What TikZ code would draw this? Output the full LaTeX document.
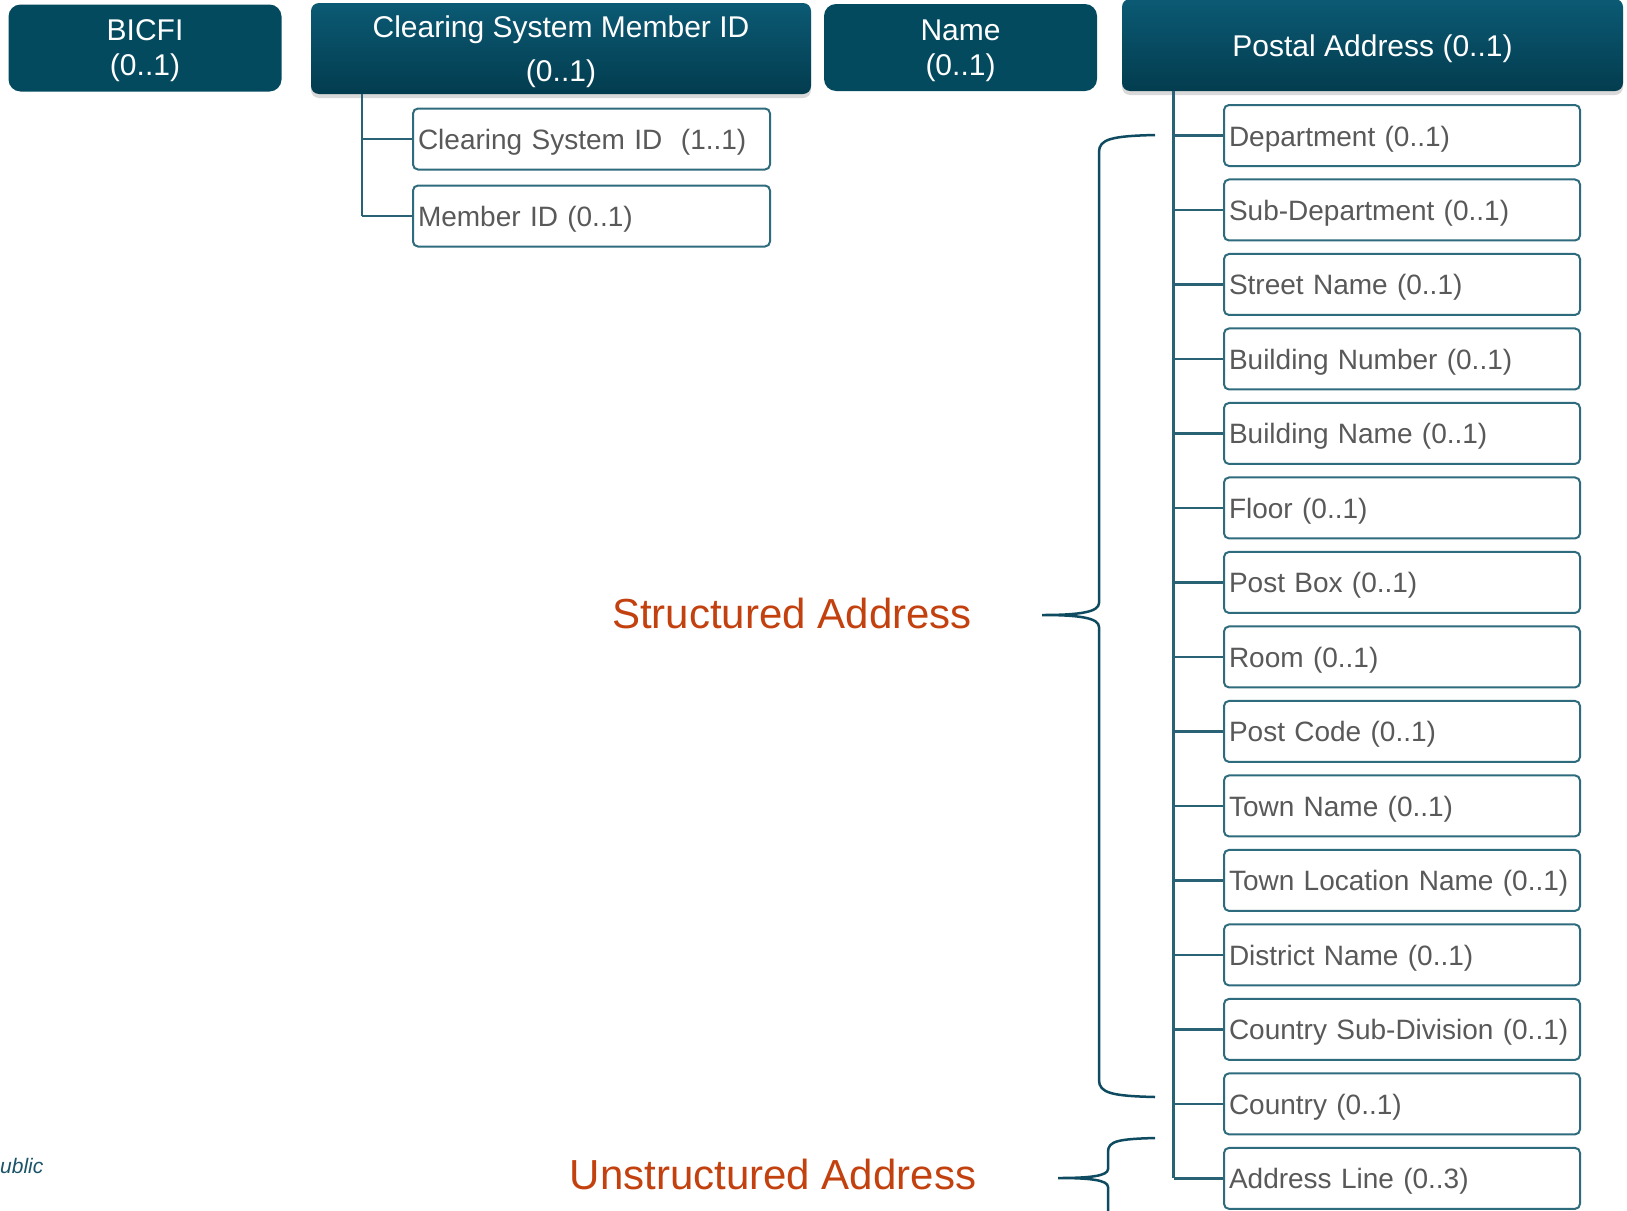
\documentclass[tikz,border=0pt]{standalone}
\usepackage{fontspec}
\setmainfont{Liberation Sans}
\usetikzlibrary{shadows}
\definecolor{hdr}{HTML}{044A5F}
\definecolor{hdrtop}{HTML}{0B5A74}
\definecolor{hdrbot}{HTML}{033C4F}
\definecolor{brd}{HTML}{2E6B7D}
\definecolor{lnk}{HTML}{2A6275}
\definecolor{txt}{HTML}{595959}
\definecolor{lbl}{HTML}{C2410F}
\definecolor{bracec}{HTML}{0E4B60}
\definecolor{pubc}{HTML}{1B5468}
\tikzset{
  hdrbox/.style={fill=hdr, rounded corners=12pt, inner sep=0pt},
  hdrshade/.style={rounded corners=8pt, top color=hdrtop, bottom color=hdrbot,
    inner sep=0pt,
    drop shadow={opacity=0.3, shadow xshift=0pt, shadow yshift=-4pt}},
  hdrtext/.style={text=white, align=center, inner sep=0pt,
    font=\fontsize{30}{35}\selectfont},
  hdrtextwide/.style={hdrtext, font=\fontsize{30}{44}\selectfont},
  childbox/.style={draw=brd, line width=2pt, fill=white, rounded corners=5pt,
    minimum width=356pt, minimum height=61pt, text=txt, anchor=west, align=left,
    text width=346pt, inner xsep=5pt, inner ysep=0pt,
    text height=27pt, text depth=6pt,
    font=\fontsize{28}{32}\selectfont},
  link/.style={draw=lnk, line width=2.5pt},
  bracel/.style={draw=bracec, line width=2.5pt},
  lbltext/.style={text=lbl, font=\fontsize{42}{48}\selectfont, inner sep=0pt},
}
\begin{document}
\begin{tikzpicture}[x=1pt, y=-1pt]
\useasboundingbox (0,0) rectangle (1627,1210);
\clip (0,0) rectangle (1627,1210);

% header boxes
\node[hdrbox, minimum width=273pt, minimum height=87pt] (bic) at (145,48) {};
\node[hdrtext] (bict) at ([yshift=-3pt]bic.center) {BICFI\\(0..1)};
\node[hdrshade, minimum width=500pt, minimum height=91pt] (csm) at (561,48.5) {};
\node[hdrtextwide] (csmt) at ([yshift=-3.5pt]csm.center) {Clearing System Member ID\\(0..1)};
\node[hdrbox, minimum width=273pt, minimum height=87pt] (nam) at (960.5,47.5) {};
\node[hdrtext] (namt) at ([yshift=-3pt]nam.center) {Name\\(0..1)};
\node[hdrshade, minimum width=501pt, minimum height=92pt] (pa) at (1372.5,45) {};
\node[hdrtext] (pat) at ([yshift=-4pt]pa.center) {Postal Address (0..1)};

% Clearing system member children
\node[childbox, minimum width=357pt, text width=347pt] (cs1) at (412,139) {Clearing System ID\ \ (1..1)};
\node[childbox, minimum width=357pt, text width=347pt] (cs2) at (412,216) {Member ID (0..1)};
\coordinate (ct) at (362,94);
\draw[link] (ct) -- (ct |- cs2.west);
\draw[link] (ct |- cs1.west) -- (cs1.west);
\draw[link] (ct |- cs2.west) -- (cs2.west);

% Postal address children
\foreach \t [count=\i from 0] in {Department (0..1), Sub-Department (0..1), Street Name (0..1),
  Building Number (0..1), Building Name (0..1), Floor (0..1), Post Box (0..1), Room (0..1),
  Post Code (0..1), Town Name (0..1), Town Location Name (0..1), District Name (0..1),
  Country Sub-Division (0..1), Country (0..1), Address Line (0..3)}
  { \node[childbox] (p\i) at (1223, {135.5+\i*74.49}) {\t}; }
\coordinate (pt) at (1173.5,91);
\draw[link] (pt) -- (pt |- p14.west);
\foreach \i in {0,...,14} { \draw[link] (pt |- p\i.west) -- (p\i.west); }

% labels
\node[lbltext] (sa) at (792,613) {Structured Address};
\node[lbltext] (ua) at (773,1174) {Unstructured Address};
\node[anchor=west, inner sep=0pt, text=pubc, font=\itshape\fontsize{21}{24}\selectfont] (pub) at (0,1166) {ublic};

% braces
\coordinate (s1) at (1155,135);
\coordinate (st) at (1042,615);
\coordinate (s2) at (1155,1097);
\draw[bracel] (s1) .. controls (1112,136) and (1099,139) .. (1099,152)
  -- (1099,603) .. controls (1099,612) and (1080,615) .. (st)
  .. controls (1080,615) and (1099,618) .. (1099,627)
  -- (1099,1080) .. controls (1099,1093) and (1112,1096) .. (s2);
\coordinate (u1) at (1155,1138);
\coordinate (ut) at (1058,1178);
\draw[bracel] (u1) .. controls (1118,1139) and (1108,1141) .. (1108,1152)
  -- (1108,1169) .. controls (1108,1176) and (1090,1178) .. (ut)
  .. controls (1090,1178) and (1108,1180) .. (1108,1187)
  -- (1108,1260);
\end{tikzpicture}
\end{document}
